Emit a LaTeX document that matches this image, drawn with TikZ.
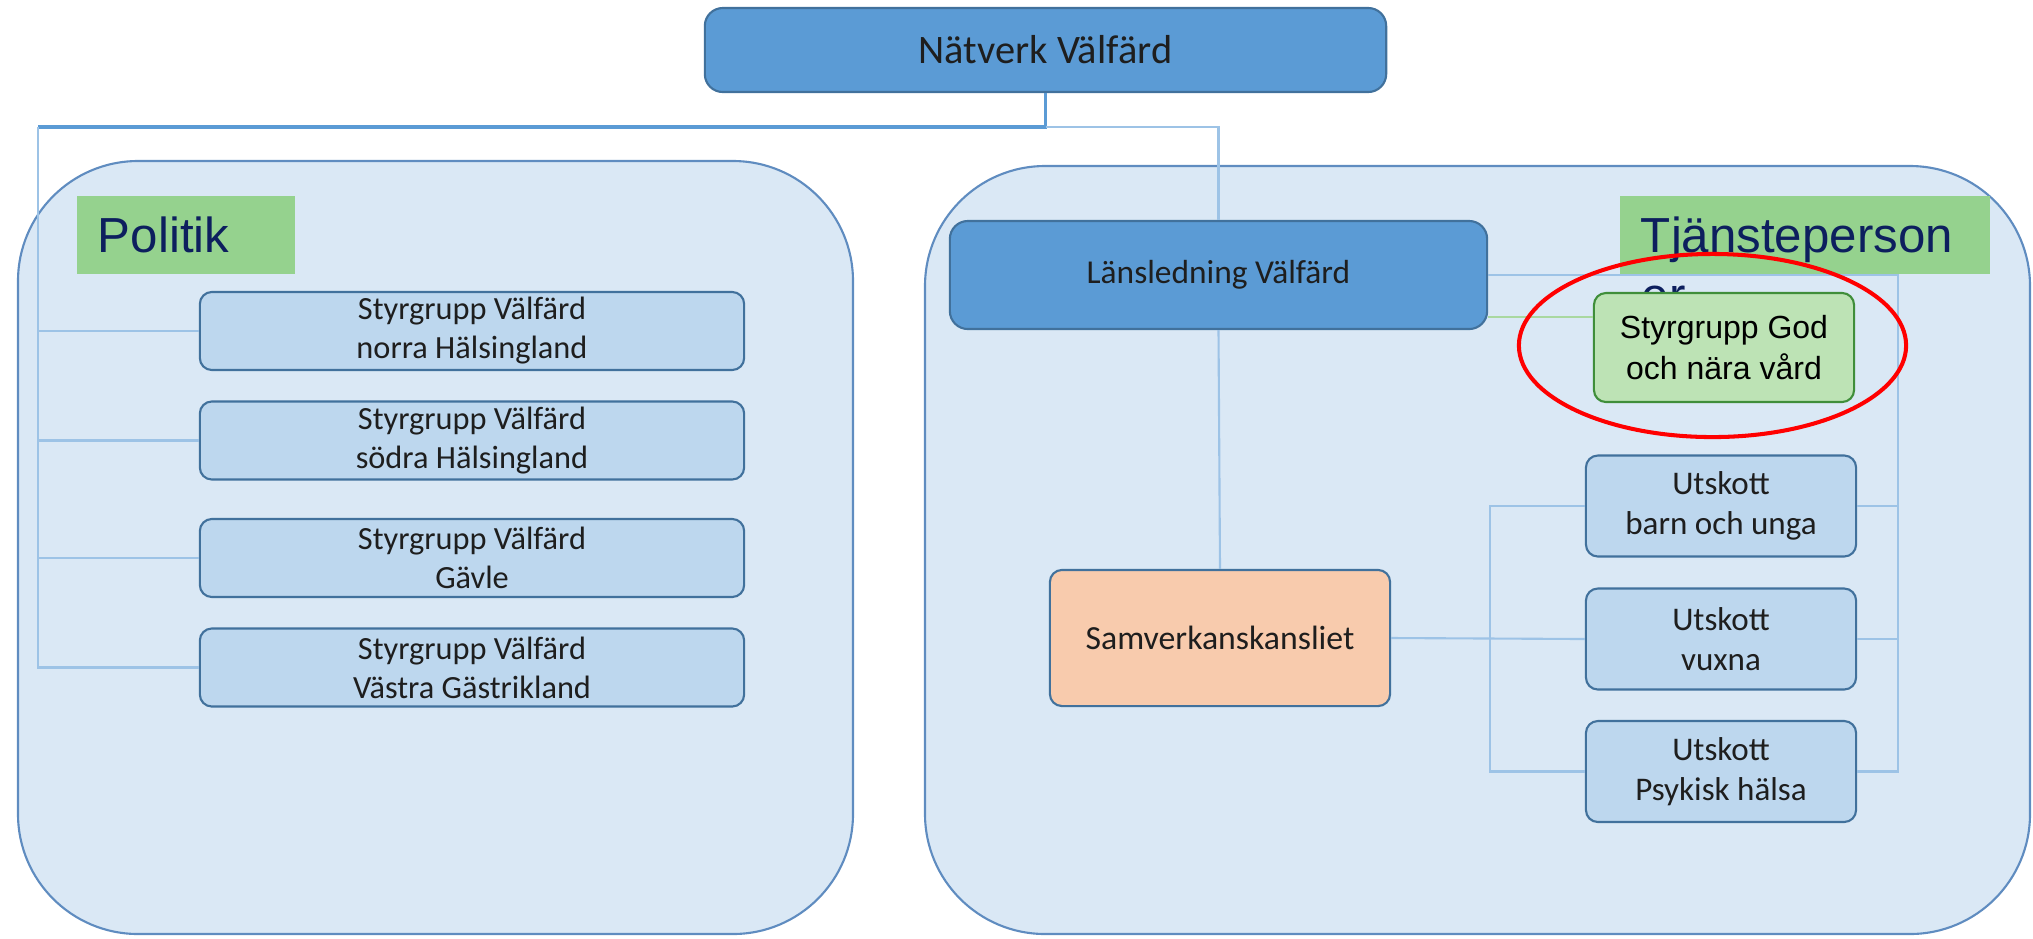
\documentclass[tikz,border=0pt]{standalone}
\usepackage{fontspec}
\setmainfont{Carlito}
\newfontfamily\arialfont{Liberation Sans}
\definecolor{nvblue}{HTML}{5B9BD5}
\definecolor{nvedge}{HTML}{41719C}
\definecolor{nvlight}{HTML}{BDD7EE}
\definecolor{nvpanel}{HTML}{DAE8F5}
\definecolor{nvpaneledge}{HTML}{5F8CC0}
\definecolor{nvtag}{HTML}{95D28E}
\definecolor{nvtagtext}{HTML}{0D1F5E}
\definecolor{nvgod}{HTML}{BDE3B5}
\definecolor{nvgodedge}{HTML}{3F8E3A}
\definecolor{nvpeach}{HTML}{F8CBAD}
\definecolor{nvlink}{HTML}{9DC3E6}
\definecolor{nvgreenlink}{HTML}{A9D8A0}
\definecolor{nvtext}{HTML}{1E1E1E}

\begin{document}
\begin{tikzpicture}[x=0.01cm,y=-0.01cm,
    box/.style={draw=nvedge, line width=0.6pt, rounded corners=0.12cm, inner sep=0pt,
      align=center, text=nvtext, font=\fontsize{9.2}{11.1}\selectfont},
    darkbox/.style={box, fill=nvblue, rounded corners=0.18cm},
    groupbox/.style={box, fill=nvlight, minimum width=5.44cm, minimum height=0.78cm},
    utskott/.style={box, fill=nvlight, minimum width=2.7cm, minimum height=1.01cm,
      font=\fontsize{9.4}{11.4}\selectfont},
    panelbox/.style={draw=nvpaneledge, fill=nvpanel, line width=0.6pt, rounded corners=1.2cm},
    tag/.style={fill=nvtag, inner ysep=0pt, inner xsep=0.21cm, minimum height=0.78cm,
      text depth=0pt, text=nvtagtext, font=\arialfont\fontsize{14}{16.1}\selectfont},
    tagtext/.style={inner sep=0pt, text=nvtagtext, font=\arialfont\fontsize{14}{16.1}\selectfont},
    link/.style={draw=nvlink, line width=0.6pt},
    mainlink/.style={draw=nvblue, line width=0.9pt},
    greenlink/.style={draw=nvgreenlink, line width=0.6pt},
    ring/.style={draw=red, line width=1.15pt}]
  \useasboundingbox (0,0) rectangle (2033,938);

  \draw[panelbox] (18,161) rectangle (853,934);
  \draw[panelbox] (925,166) rectangle (2030,934);

  \path
  (186,235) node[tag, text width=1.76cm](politik) {Politik}
  (1805,235) node[tag, text width=3.28cm](tjanst) {Tjänsteperson}
  (1641,312) node[tagtext, anchor=base west](tjanster) {er}
  ;

  \path
  (1045.5,50) node[darkbox, minimum width=6.81cm, minimum height=0.84cm,
    font=\fontsize{11.5}{13}\selectfont](natverk) {Nätverk Välfärd}
  (1218.5,275) node[darkbox, minimum width=5.37cm, minimum height=1.08cm,
    font=\fontsize{9.5}{11.4}\selectfont](lans) {Länsledning Välfärd}
  (1220,638) node[box, fill=nvpeach, minimum width=3.4cm, minimum height=1.36cm,
    font=\fontsize{9.6}{11.5}\selectfont](kansli) {Samverkanskansliet}
  (1724,347.5) node[box, fill=nvgod, draw=nvgodedge, minimum width=2.6cm, minimum height=1.09cm,
    text=black, font=\arialfont\fontsize{9.1}{11.4}\selectfont](god) {Styrgrupp God\\och nära vård}
  ;

  \path
  (472,331) node[groupbox](norra) {Styrgrupp Välfärd\\norra Hälsingland}
  (472,440.5) node[groupbox](sodra) {Styrgrupp Välfärd\\södra Hälsingland}
  (472,558) node[groupbox](gavle) {Styrgrupp Välfärd\\Gävle}
  (472,667.5) node[groupbox](vastra) {Styrgrupp Välfärd\\Västra Gästrikland}
  ;

  \path
  (1721,506) node[utskott](barn) {Utskott\\barn och unga}
  (1721,639) node[utskott](vuxna) {Utskott\\vuxna}
  (1721,771.5) node[utskott](psyk) {Utskott\\Psykisk hälsa}
  ;

  \coordinate (split) at (1045.5,127);
  \coordinate (busL) at (38,127);
  \coordinate (busR) at (1898,275);
  \coordinate (busU) at (1490,506);
  \coordinate (godin) at ([yshift=3.05mm]god.west);

  \draw[mainlink] (natverk.south) -- (split) -- (busL);
  \draw[link] (busL) -- (busL |- vastra.west) -- (vastra.west);
  \draw[link] (busL |- norra.west) -- (norra.west);
  \draw[link] (busL |- sodra.west) -- (sodra.west);
  \draw[link] (busL |- gavle.west) -- (gavle.west);

  \draw[link] (split) -| (lans.north);
  \draw[link] (lans.south) -- (kansli.north);
  \draw[greenlink] (lans.east |- godin) -- (godin);

  \draw[link] (lans.east) -- (busR) -- (busR |- psyk.east) -- (psyk.east);
  \draw[link] (barn.east) -- (barn.east -| busR);
  \draw[link] (vuxna.east) -- (vuxna.east -| busR);

  \draw[link] (kansli.east) -- (vuxna.west);
  \draw[link] (barn.west) -- (busU) -- (busU |- psyk.west) -- (psyk.west);

  \draw[ring] (1712.5,345.5) ellipse [x radius=1.935cm, y radius=0.915cm];
\end{tikzpicture}
\end{document}
